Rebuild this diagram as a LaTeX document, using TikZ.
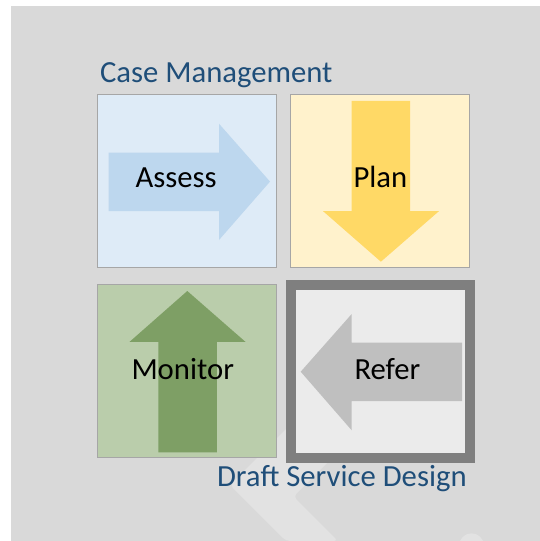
\documentclass[tikz,border=0pt]{standalone}
\usepackage{fontspec}
\setmainfont{Carlito}
\definecolor{bgc}{HTML}{D9D9D9}
\definecolor{wmc}{HTML}{E2E2E2}
\definecolor{boxline}{HTML}{A6A6A6}
\definecolor{assessbg}{HTML}{DEEBF7}
\definecolor{assessar}{HTML}{BDD7EE}
\definecolor{planbg}{HTML}{FFF2CC}
\definecolor{planar}{HTML}{FFD966}
\definecolor{monbg}{HTML}{BACDAB}
\definecolor{monar}{HTML}{7E9F65}
\definecolor{refbg}{HTML}{EBEBEB}
\definecolor{refar}{HTML}{BFBFBF}
\definecolor{refline}{HTML}{7F7F7F}
\definecolor{titleblue}{HTML}{1F4E79}
\begin{document}
\begin{tikzpicture}[x=1pt,y=-1pt,
  box/.style={draw=boxline, line width=0.8pt, inner sep=0pt, outer sep=0pt},
  lbl/.style={anchor=base west, inner sep=0pt, outer sep=0pt, font=\fontsize{30.7}{37}\selectfont, text=black},
  ttl/.style={lbl, text=titleblue}]
\useasboundingbox (0,0) rectangle (540,541);
\fill[bgc] (11,6) rectangle (540,541);
\begin{scope}
  \clip (11,6) rectangle (540,541);
  \fill[wmc, rounded corners=4pt] (340,375) -- (230,485) -- (286,541) -- (338,541) -- (293.5,496.5) -- (380,410) -- cycle;
  \fill[wmc] (471.5,545.7) circle (12.4);
\end{scope}
% boxes
\node[box, fill=assessbg, minimum width=179.1, minimum height=173.1] (assessbox) at (187,180.6) {};
\node[box, fill=planbg, minimum width=179, minimum height=173.1] (planbox) at (380,180.6) {};
\node[box, fill=monbg, minimum width=179.1, minimum height=173.3] (monbox) at (187,371.05) {};
\node[draw=refline, line width=9.4pt, fill=refbg, inner sep=0pt, outer sep=0pt, minimum width=179, minimum height=172.8] (refbox) at (380.4,371.4) {};
% arrows
\fill[assessar] (108.6,152.5) -- (219,152.5) -- (219,123.7) -- (270,181.6) -- (219,240) -- (219,211.2) -- (108.6,211.2) -- cycle;
\fill[planar] (351.6,100.9) -- (410.1,100.9) -- (410.1,211.1) -- (439,211.1) -- (380.9,261.7) -- (323,211.1) -- (351.6,211.1) -- cycle;
\fill[monar] (158.4,452.3) -- (158.4,341.9) -- (129.5,341.9) -- (187.3,291) -- (245.5,341.9) -- (216.9,341.9) -- (216.9,452.3) -- cycle;
\fill[refar] (462,342.5) -- (351.7,342.5) -- (351.7,314) -- (300.7,371.7) -- (351.7,430.3) -- (351.7,401) -- (462,401) -- cycle;
% labels
\node[ttl] (title) at (100,82.5) {Case Management};
\node[lbl] (assess) at (135.5,187.7) {Assess};
\node[lbl] (plan) at (353.5,187.7) {Plan};
\node[lbl] (monitor) at (131.5,379) {Monitor};
\node[lbl] (refer) at (354.5,379.5) {Refer};
\node[ttl] (draft) at (217,486) {Draft Service Design};
\end{tikzpicture}
\end{document}
